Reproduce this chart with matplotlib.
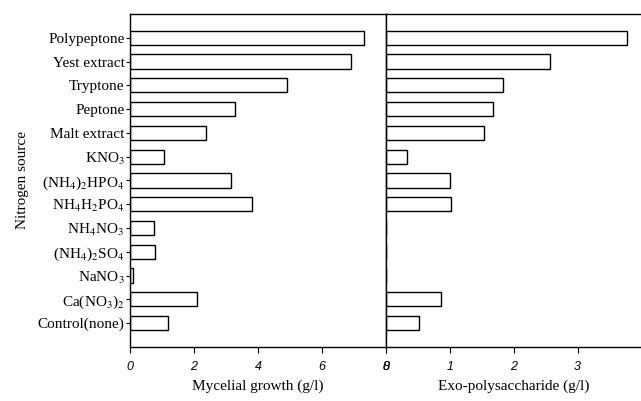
import matplotlib
matplotlib.use('Agg')
import matplotlib.pyplot as plt
import numpy as np

# Nitrogen sources, bottom to top
SOURCES = ["Control(none)", "Ca(NO$_3$)$_2$", "NaNO$_3$", "(NH$_4$)$_2$SO$_4$",
           "NH$_4$NO$_3$", "NH$_4$H$_2$PO$_4$", "(NH$_4$)$_2$HPO$_4$", "KNO$_3$",
           "Malt extract", "Peptone", "Tryptone", "Yest extract", "Polypeptone"]

# Mycelial growth (g/l)
MYCELIAL = [1.2, 2.1, 0.08, 0.78, 0.75, 3.8, 3.15, 1.07, 2.37, 3.28, 4.9, 6.9, 7.3]

# Exo-polysaccharide (g/l)
EPS = [0.52, 0.86, 0.0, 0.0, 0.0, 1.02, 1.0, 0.33, 1.53, 1.67, 1.83, 2.56, 3.77]

plt.rcParams['font.family'] = ['Liberation Serif', 'DejaVu Serif']
plt.rcParams['mathtext.fontset'] = 'stix'

fig = plt.figure(figsize=(6.41, 4.01), dpi=100)
ax1 = fig.add_axes([0.203, 0.135, 0.399, 0.830])
ax2 = fig.add_axes([0.602, 0.135, 0.399, 0.830])

y = np.arange(len(SOURCES))
bar_h = 0.6

ax1.barh(y, MYCELIAL, height=bar_h, color='white', edgecolor='black', linewidth=1.0)
ax2.barh(y, EPS, height=bar_h, color='white', edgecolor='black', linewidth=1.0)

ax1.set_xlim(0, 8)
ax2.set_xlim(0, 4)
ax1.set_xticks([0, 2, 4, 6, 8])
ax2.set_xticks([0, 1, 2, 3])
for ax in (ax1, ax2):
    ax.set_ylim(-1, 13)
    ax.tick_params(axis='x', direction='out', length=4, width=0.8, pad=6)
    for lbl in ax.get_xticklabels():
        lbl.set_family(['Liberation Sans', 'DejaVu Sans'])
        lbl.set_style('italic')
        lbl.set_fontsize(9)
    for sp in ax.spines.values():
        sp.set_linewidth(1.0)

ax1.set_yticks(y)
ax1.set_yticklabels(SOURCES, fontsize=11)
ax1.tick_params(axis='y', direction='out', length=3, width=0.8, pad=1)
ax2.set_yticks([])
ax2.spines['right'].set_visible(False)

ax1.set_ylabel('Nitrogen source', fontsize=11, labelpad=6)
ax1.set_xlabel('Mycelial growth (g/l)', fontsize=11, labelpad=5)
ax2.set_xlabel('Exo-polysaccharide (g/l)', fontsize=11, labelpad=5)

fig.savefig('out.png', dpi=100)
